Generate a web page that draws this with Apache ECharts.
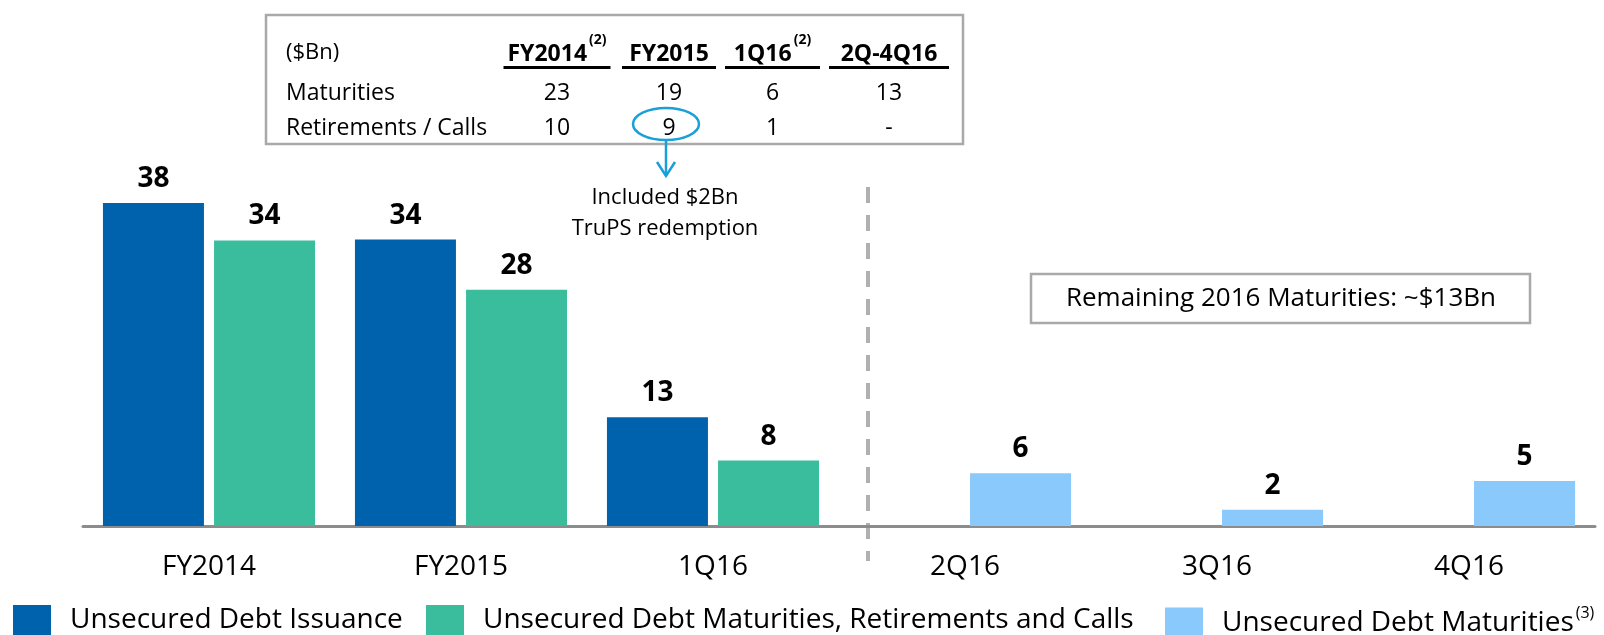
<!DOCTYPE html>
<html>
<head>
<meta charset="utf-8">
<script src="https://cdn.jsdelivr.net/npm/echarts@6/dist/echarts.min.js"></script>
<style>
  html, body { margin: 0; padding: 0; background: #ffffff; }
  #chart { width: 1604px; height: 635px; }
</style>
</head>
<body>
<div id="chart"></div>
<script>
// ---------- data ----------
const categories = ['FY2014', 'FY2015', '1Q16', '2Q16', '3Q16', '4Q16'];
const issuance = [38, 33.7, 12.8, '-', '-', '-'];
const maturitiesRetCalls = [33.6, 27.8, 7.7, '-', '-', '-'];
const remainingMaturities = ['-', '-', '-', 6.2, 1.9, 5.3];
const seriesNames = [
  'Unsecured Debt Issuance',
  'Unsecured Debt Maturities, Retirements and Calls',
  'Unsecured Debt Maturities'
];

const tableUnit = '($Bn)';
const tableHeaders = ['FY2014', 'FY2015', '1Q16', '2Q-4Q16'];
const tableHeaderNotes = ['(2)', '', '(2)', ''];
const tableRowLabels = ['Maturities', 'Retirements / Calls'];
const tableMaturities = ['23', '19', '6', '13'];
const tableRetirements = ['10', '9', '1', '-'];
const annotationLines = ['Included $2Bn', 'TruPS redemption'];
const remainingNote = 'Remaining 2016 Maturities: ~$13Bn';
const legendNote = '(3)';

// ---------- styling ----------
const FONT = '"Open Sans", "Noto Sans", sans-serif';
const C_BLUE = '#0061ad';
const C_GREEN = '#3abd9d';
const C_LIGHT = '#89c9fc';
const C_BORDER = '#a9a9a9';
const C_CYAN = '#1b9fd8';

const colX = [557, 669, 772.5, 889];
const colUnderline = [107, 94, 95, 120];

const graphics = [];
// table box
graphics.push({ type: 'rect', shape: { x: 266, y: 15, width: 697, height: 129 },
  style: { fill: '#fff', stroke: C_BORDER, lineWidth: 2.5 }, z: 1 });
graphics.push({ type: 'text', x: 286, y: 53, z: 2,
  style: { text: tableUnit, fontSize: 22, fontFamily: FONT, fill: '#000',
    align: 'left', verticalAlign: 'middle', textAlign: 'left', textVerticalAlign: 'middle' } });
tableRowLabels.forEach((t, i) => {
  graphics.push({ type: 'text', x: 286, y: i === 0 ? 93 : 128, z: 2,
    style: { text: t, fontSize: 23, fontFamily: FONT, fill: '#000',
      align: 'left', verticalAlign: 'middle', textAlign: 'left', textVerticalAlign: 'middle' } });
});
tableHeaders.forEach((h, i) => {
  const note = tableHeaderNotes[i];
  graphics.push({ type: 'text', x: colX[i], y: 54, z: 2,
    style: { text: note ? h + '{n|' + note + '}' : h,
      fontSize: 23, fontWeight: 'bold', fontFamily: FONT, fill: '#000',
      align: 'center', verticalAlign: 'middle', textAlign: 'center', textVerticalAlign: 'middle',
      rich: { n: { fontSize: 14, fontWeight: 'bold', fontFamily: FONT, fill: '#000',
        lineHeight: 14, padding: [0, 0, 28, 2] } } } });
  graphics.push({ type: 'rect', z: 2,
    shape: { x: colX[i] - colUnderline[i] / 2, y: 66, width: colUnderline[i], height: 3 },
    style: { fill: '#000' } });
  graphics.push({ type: 'text', x: colX[i], y: 93, z: 2,
    style: { text: tableMaturities[i], fontSize: 23, fontFamily: FONT, fill: '#000',
      align: 'center', verticalAlign: 'middle', textAlign: 'center', textVerticalAlign: 'middle' } });
  graphics.push({ type: 'text', x: colX[i], y: 128, z: 2,
    style: { text: tableRetirements[i], fontSize: 23, fontFamily: FONT, fill: '#000',
      align: 'center', verticalAlign: 'middle', textAlign: 'center', textVerticalAlign: 'middle' } });
});
// ellipse + arrow
graphics.push({ type: 'ellipse', z: 3, shape: { cx: 666, cy: 124, rx: 33, ry: 16 },
  style: { fill: 'none', stroke: C_CYAN, lineWidth: 2.5 } });
graphics.push({ type: 'line', z: 3, shape: { x1: 666, y1: 140, x2: 666, y2: 176 },
  style: { stroke: C_CYAN, lineWidth: 2.5 } });
graphics.push({ type: 'polyline', z: 3, shape: { points: [[657, 162], [666, 176], [675, 162]] },
  style: { fill: 'none', stroke: C_CYAN, lineWidth: 2.5 } });
annotationLines.forEach((t, i) => {
  graphics.push({ type: 'text', x: 665, y: 198 + i * 31, z: 3,
    style: { text: t, fontSize: 22, fontFamily: FONT, fill: '#000',
      align: 'center', verticalAlign: 'middle', textAlign: 'center', textVerticalAlign: 'middle' } });
});
// divider
graphics.push({ type: 'line', z: 0, shape: { x1: 868, y1: 187, x2: 868, y2: 561 },
  style: { stroke: '#b0b0b0', lineWidth: 4, lineDash: [16, 12] } });
// remaining box
graphics.push({ type: 'rect', z: 1, shape: { x: 1031, y: 274, width: 499, height: 49 },
  style: { fill: '#fff', stroke: C_BORDER, lineWidth: 2.5 } });
graphics.push({ type: 'text', x: 1281, y: 298.5, z: 2,
  style: { text: remainingNote, fontSize: 26, fontFamily: FONT, fill: '#000',
    align: 'center', verticalAlign: 'middle', textAlign: 'center', textVerticalAlign: 'middle' } });

const labelCfg = {
  show: true, position: 'top', distance: 10,
  fontSize: 28, fontWeight: 'bold', fontFamily: FONT, color: '#000', lineHeight: 28,
  formatter: p => String(Math.round(p.value))
};

function legendFor(idx, left, extra) {
  return Object.assign({
    data: [seriesNames[idx]], left: left, top: 605, padding: 0,
    orient: 'horizontal', icon: 'rect', itemWidth: 38, itemHeight: 31,
    selectedMode: false,
    textStyle: { fontSize: 28, fontFamily: FONT, color: '#000', padding: [0, 0, 0, 14] }
  }, extra || {});
}

const option = {
  animation: false,
  backgroundColor: '#ffffff',
  textStyle: { fontFamily: FONT },
  grid: { left: 83, right: 9, top: 16, bottom: 109, containLabel: false },
  legend: [
    legendFor(0, 13),
    legendFor(1, 426),
    legendFor(2, 1165, {
      formatter: n => n + '{sup|' + legendNote + '}',
      textStyle: { fontSize: 28, fontFamily: FONT, color: '#000', padding: [0, 0, 0, 14],
        rich: { sup: { fontSize: 16, fontFamily: FONT, color: '#000', padding: [0, 0, 20, 2] } } }
    })
  ],
  xAxis: {
    type: 'category', data: categories,
    axisLine: { lineStyle: { color: '#8c8c8c', width: 3 } },
    axisTick: { show: false },
    axisLabel: { fontSize: 28, fontFamily: FONT, color: '#000', margin: 27, lineHeight: 28 }
  },
  yAxis: { type: 'value', min: 0, max: 60, show: false, splitLine: { show: false } },
  series: [
    { name: seriesNames[0], type: 'bar', data: issuance, barWidth: 101, barGap: '10%',
      itemStyle: { color: C_BLUE }, label: labelCfg },
    { name: seriesNames[1], type: 'bar', data: maturitiesRetCalls, barWidth: 101, barGap: '10%',
      stack: 'm', itemStyle: { color: C_GREEN }, label: labelCfg },
    { name: seriesNames[2], type: 'bar', data: remainingMaturities, barWidth: 101, barGap: '10%',
      stack: 'm', itemStyle: { color: C_LIGHT }, label: labelCfg }
  ],
  graphic: { elements: graphics }
};

const chart = echarts.init(document.getElementById('chart'), null, { renderer: 'canvas' });
chart.setOption(option);
</script>
</body>
</html>
